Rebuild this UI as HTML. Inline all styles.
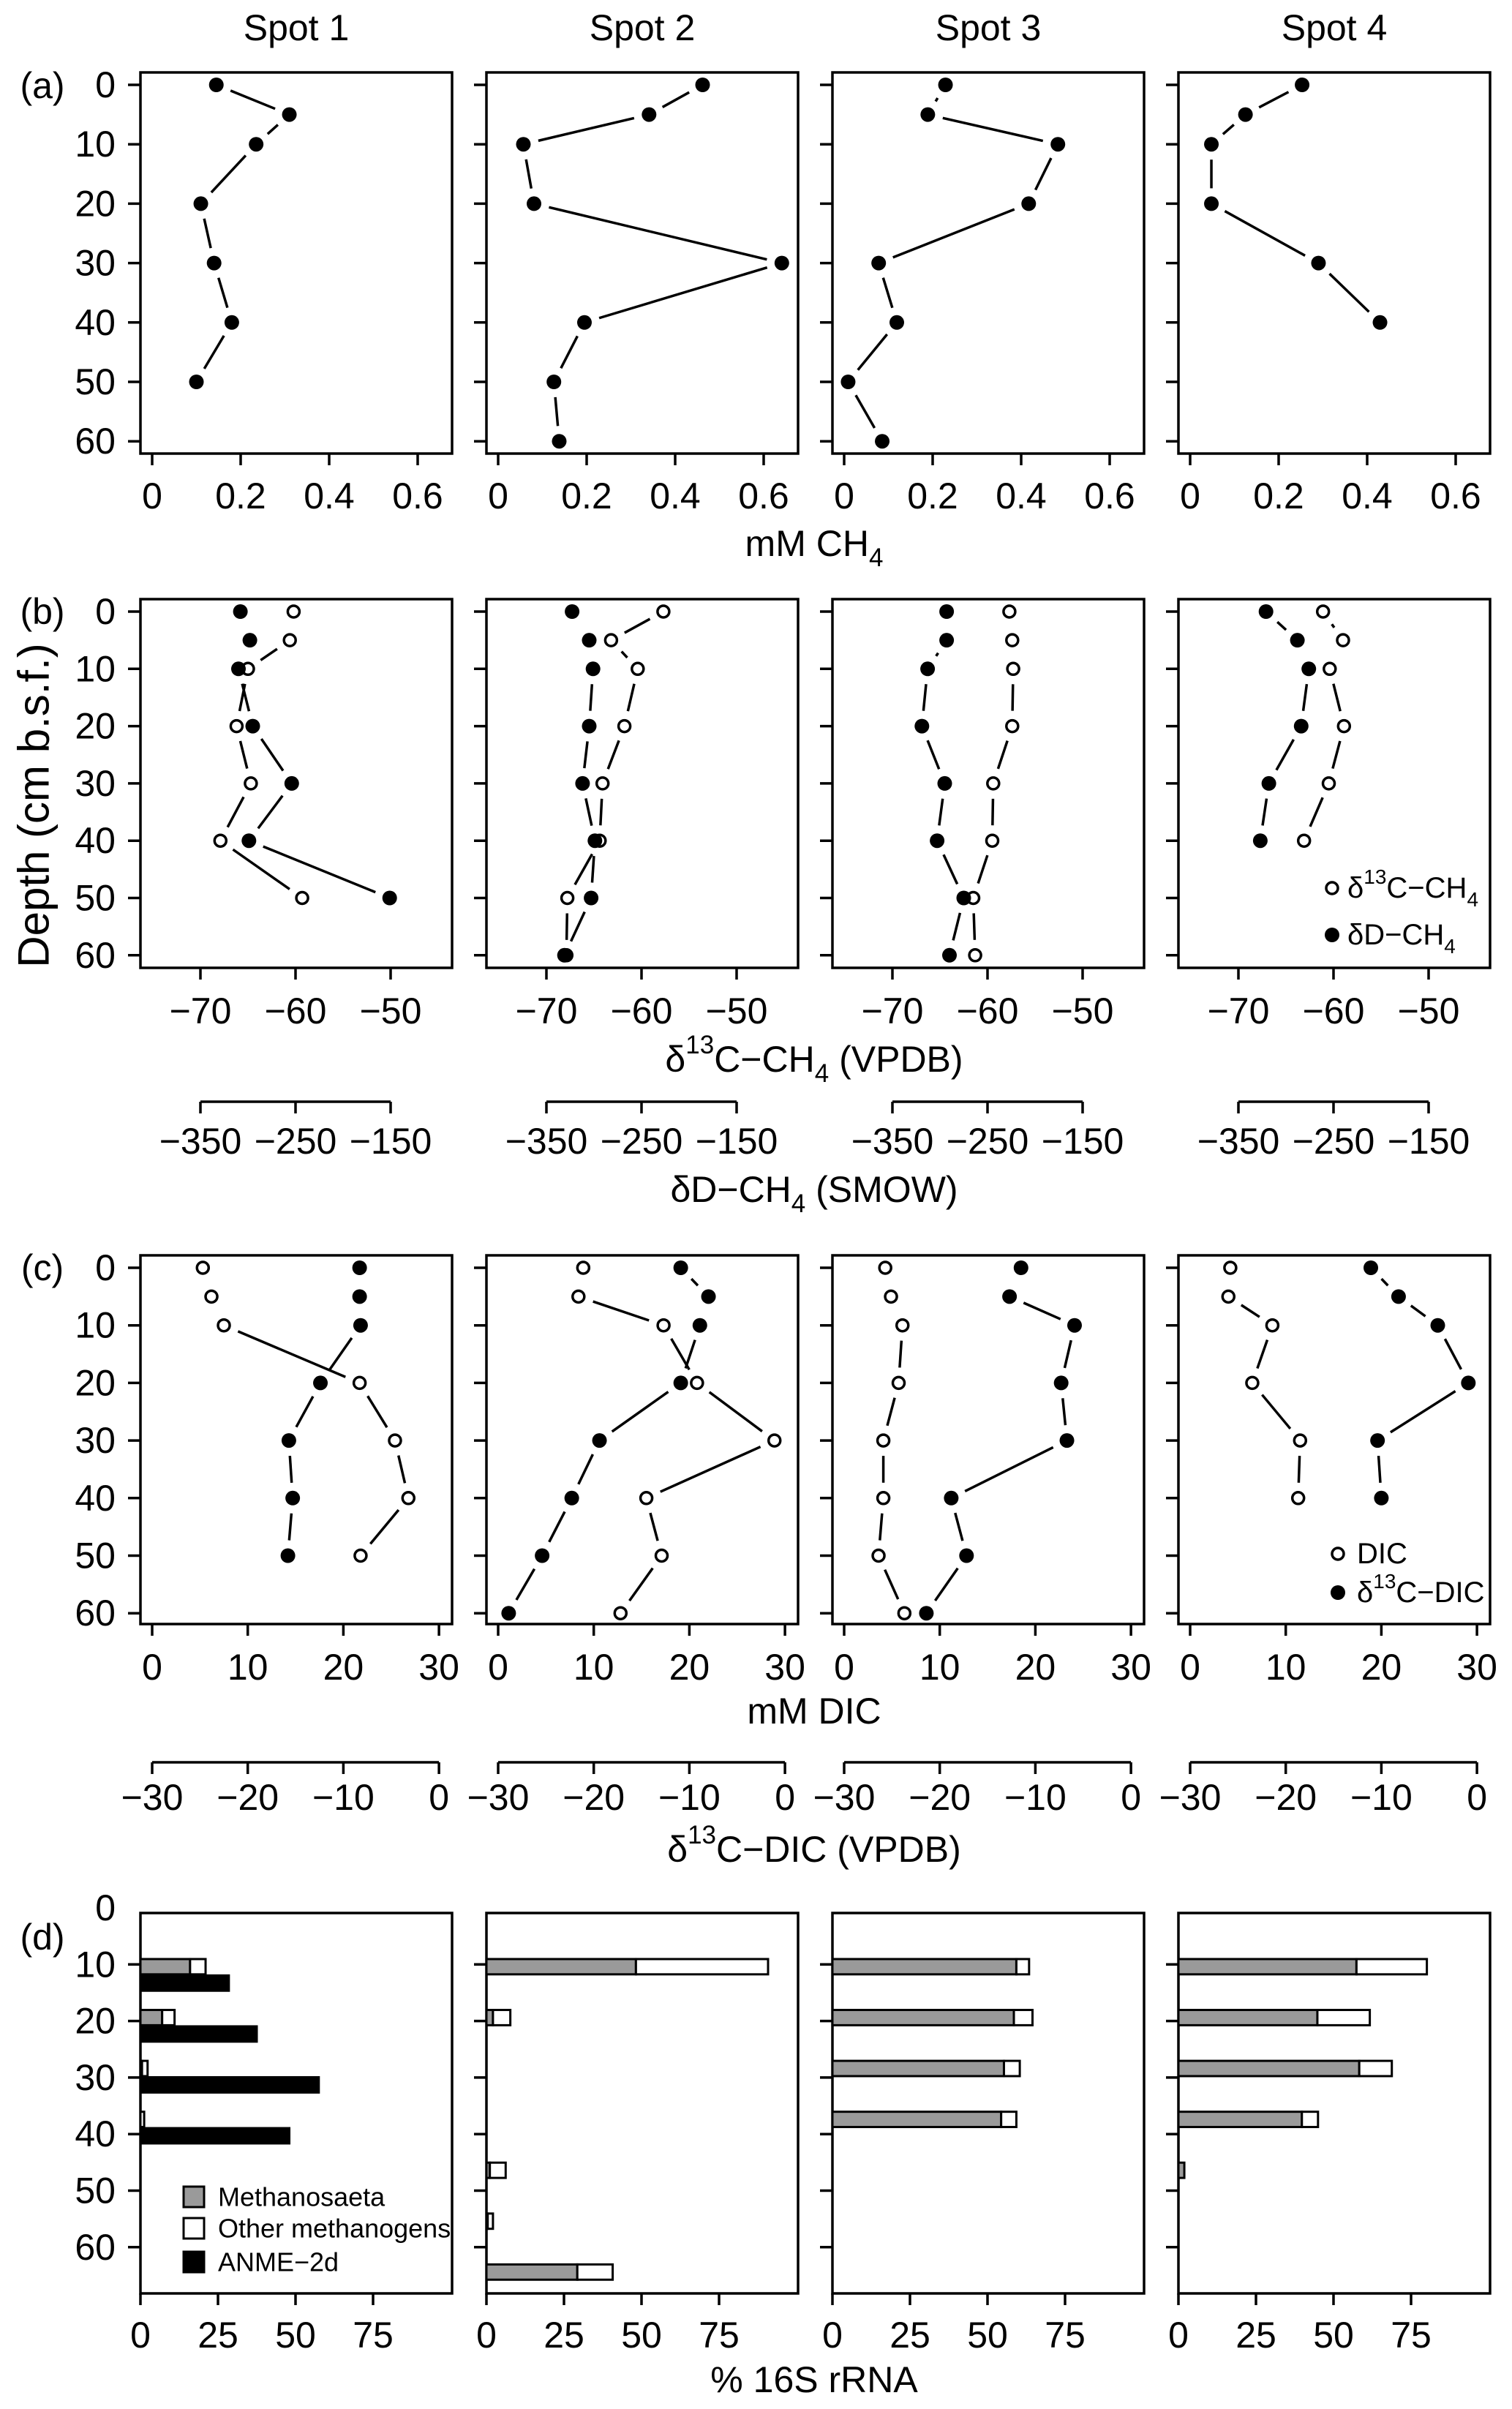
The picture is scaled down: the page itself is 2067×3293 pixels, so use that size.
<!DOCTYPE html>
<html><head><meta charset="utf-8"><title>Methane profiles by spot</title>
<style>
html,body{margin:0;padding:0;background:#fff;}
svg{display:block;font-family:"Liberation Sans",Arial,sans-serif;}
</style></head>
<body>
<svg id="fig" width="2067" height="3293" viewBox="0 0 2067 3293" xmlns="http://www.w3.org/2000/svg"></svg>
<script>
// ---- data ----
const spotNames = ["Spot 1","Spot 2","Spot 3","Spot 4"];
const depthsS1 = [0,5,10,20,30,40,50];
const depthsS2 = [0,5,10,20,30,40,50,60];
const depthsS3 = [0,5,10,20,30,40,50,60];
const depthsS4 = [0,5,10,20,30,40];
const ch4S1 = [0.145,0.31,0.235,0.11,0.14,0.18,0.10];
const ch4S2 = [0.462,0.341,0.057,0.081,0.641,0.195,0.126,0.138];
const ch4S3 = [0.229,0.189,0.483,0.417,0.078,0.119,0.009,0.086];
const ch4S4 = [0.253,0.125,0.048,0.048,0.29,0.429];
const d13ch4S1 = [-60.2,-60.6,-65,-66.2,-64.7,-67.9,-59.3];
const d13ch4S2 = [-57.7,-63.2,-60.4,-61.8,-64.1,-64.4,-67.8,-67.9];
const d13ch4S3 = [-57.7,-57.4,-57.3,-57.4,-59.4,-59.5,-61.5,-61.3];
const d13ch4S4 = [-61.1,-59.0,-60.4,-58.9,-60.5,-63.1];
const dDch4S1 = [-308,-298,-310,-295,-254,-299,-151];
const dDch4S2 = [-323,-305,-301,-305,-312,-299,-303,-331];
const dDch4S3 = [-293,-293,-313,-319,-295,-303,-275,-290];
const dDch4S4 = [-321,-288,-276,-284,-318,-327];
const dicS1 = [5.3,6.2,7.5,21.7,25.4,26.8,21.8];
const dicS2 = [8.9,8.4,17.3,20.8,28.9,15.5,17.1,12.8];
const dicS3 = [4.3,4.9,6.1,5.7,4.1,4.1,3.6,6.3];
const dicS4 = [4.2,4.0,8.6,6.5,11.5,11.3];
const d13dicS1 = [-8.3,-8.3,-8.2,-12.4,-15.7,-15.3,-15.8];
const d13dicS2 = [-10.9,-8.0,-8.9,-10.9,-19.4,-22.3,-25.4,-28.9];
const d13dicS3 = [-11.5,-12.7,-5.9,-7.3,-6.7,-18.8,-17.2,-21.4];
const d13dicS4 = [-11.1,-8.2,-4.1,-0.9,-10.4,-10.0];
const barGroups = [0,1,2,3,4,5,6];
const methanosaetaS1 = [16,7,0.5,0,0,0,0];
const methanosaetaS2 = [48.2,2.1,0,0,1.1,0.4,29.3];
const methanosaetaS3 = [59.3,58.5,55.3,54.4,0,0,0];
const methanosaetaS4 = [57.4,44.8,58.3,39.8,1.9,0,0];
const otherMethS1 = [5,4,1.8,1.2,0,0,0];
const otherMethS2 = [42.6,5.6,0,0,5.1,1.7,11.4];
const otherMethS3 = [4.1,6,5.1,4.9,0,0,0];
const otherMethS4 = [22.7,16.9,10.5,5.2,0,0,0];
const anmeS1 = [28.5,37.5,57.5,48,0,0,0];
const depthTicks = [0,10,20,30,40,50,60];
const ch4Ticks = [0,0.2,0.4,0.6];
const d13Ticks = [-70,-60,-50];
const dDTicks = [-350,-250,-150];
const dicTicks = [0,10,20,30];
const d13dicTicks = [-30,-20,-10,0];
const pctTicks = [0,25,50,75];

const depths = [depthsS1,depthsS2,depthsS3,depthsS4];
const ch4 = [ch4S1,ch4S2,ch4S3,ch4S4];
const d13ch4 = [d13ch4S1,d13ch4S2,d13ch4S3,d13ch4S4];
const dDch4 = [dDch4S1,dDch4S2,dDch4S3,dDch4S4];
const dic = [dicS1,dicS2,dicS3,dicS4];
const d13dic = [d13dicS1,d13dicS2,d13dicS3,d13dicS4];
const meth = [methanosaetaS1,methanosaetaS2,methanosaetaS3,methanosaetaS4];
const other = [otherMethS1,otherMethS2,otherMethS3,otherMethS4];

// ---- layout ----
const NS = "http://www.w3.org/2000/svg";
const svg = document.getElementById("fig");
const LEFTS = [192,665,1138,1611];
const W = 426;
const ROWS = {
  a:{top:99,bot:620,y0:116,per:8.12,lab:678},
  b:{top:819,bot:1323,y0:836,per:7.83,lab:1382},
  c:{top:1716,bot:2220,y0:1733,per:7.87,lab:2279},
  d:{top:2615,bot:3135,y0:2608,per:7.73,lab:3192}
};
function yScale(r,d){return ROWS[r].y0 + d*ROWS[r].per;}
const xA = (L,v)=>L+16+v*605;
const xB = (L,v)=>L+82+(v+70)*13;
const xBD = (L,v)=>L+82+(v+350)*1.3;
const xC = (L,v)=>L+16+v*13.07;
const xCD = (L,v)=>L+16+(v+30)*13.07;
const xD = (L,v)=>L+v*4.24;

function mk(tag,attrs,parent){
  const e=document.createElementNS(NS,tag);
  for(const k in attrs) e.setAttribute(k,attrs[k]);
  (parent||svg).appendChild(e);
  return e;
}
function txt(x,y,s,size,anchor,parent){
  const t=mk("text",{x:x,y:y,"font-size":size,"text-anchor":anchor||"middle","dominant-baseline":"central",fill:"#000"},parent);
  t.textContent=s;
  return t;
}
function richTxt(x,y,parts,size,anchor){
  const t=mk("text",{x:x,y:y,"font-size":size,"text-anchor":anchor||"middle","dominant-baseline":"central",fill:"#000"});
  parts.forEach(p=>{
    const ts=document.createElementNS(NS,"tspan");
    ts.textContent=p[0];
    if(p[1]==="sup"){ts.setAttribute("baseline-shift","super");ts.setAttribute("font-size",Math.round(size*0.7));}
    if(p[1]==="sub"){ts.setAttribute("baseline-shift","sub");ts.setAttribute("font-size",Math.round(size*0.7));}
    t.appendChild(ts);
  });
  return t;
}
function gapLine(x1,y1,x2,y2,g,parent){
  const dx=x2-x1, dy=y2-y1, len=Math.hypot(dx,dy);
  if(len<=2*g+4) return null;
  const ux=dx/len, uy=dy/len;
  return mk("line",{x1:x1+ux*g,y1:y1+uy*g,x2:x2-ux*g,y2:y2-uy*g,stroke:"#000","stroke-width":3.5},parent);
}

// ---- titles ----
spotNames.forEach((s,i)=>{
  const t=txt(LEFTS[i]+W/2,38,s,50);
  
  
});
const panelLabels=[["(a)",117],["(b)",836],["(c)",1733],["(d)",2648]];
panelLabels.forEach(p=>{
  const t=txt(58,p[1],p[0],50);
  
  
});
const depthTitle=txt(0,0,"Depth (cm b.s.f.)",60);
depthTitle.setAttribute("transform","translate(46,1101) rotate(-90)");



// ---- generic panel frame ----
function frame(r,i,xTicks,xFn,name){
  const L=LEFTS[i], R=ROWS[r];
  const g=mk("g",{});
  
  
  const box=mk("rect",{x:L,y:R.top,width:W,height:R.bot-R.top,fill:"none",stroke:"#000","stroke-width":3.5},g);
  
  
  depthTicks.forEach(d=>{
    const y=yScale(r,d);
    if(!(r==="d"&&d===0)){
      const tk=mk("line",{x1:L-17,y1:y,x2:L,y2:y,stroke:"#000","stroke-width":3.5},g);
      
      
    }
    if(i===0){
      const tl=txt(L-34,y,String(d),50,"end",g);
      
      
    }
  });
  xTicks.forEach(v=>{
    const x=xFn(L,v);
    const tk=mk("line",{x1:x,y1:R.bot,x2:x,y2:R.bot+16,stroke:"#000","stroke-width":3.5},g);
    
    
    const tl=txt(x,R.lab,String(v).replace("-","\u2212"),50,"middle",g);
    
    
  });
  return g;
}
function ruler(i,y,labY,ticks,xFn,name){
  const L=LEFTS[i];
  const g=mk("g",{});
  
  
  const x1=xFn(L,ticks[0]), x2=xFn(L,ticks[ticks.length-1]);
  const ln=mk("line",{x1:x1,y1:y,x2:x2,y2:y,stroke:"#000","stroke-width":3.5},g);
  
  
  ticks.forEach(v=>{
    const x=xFn(L,v);
    const tk=mk("line",{x1:x,y1:y,x2:x,y2:y+16,stroke:"#000","stroke-width":3.5},g);
    
    
    const tl=txt(x,labY,String(v).replace("-","\u2212"),50,"middle",g);
    
    
  });
}
function series(r,i,vals,ds,xFn,L,open,name){
  const g=mk("g",{});
  
  
  const pts=vals.map((v,k)=>[xFn(L,v),yScale(r,ds[k])]);
  for(let k=0;k<pts.length-1;k++){
    const l=gapLine(pts[k][0],pts[k][1],pts[k+1][0],pts[k+1][1],21,g);
    if(l){
      
      
    }
  }
  pts.forEach(p=>{
    const c=open?mk("circle",{cx:p[0],cy:p[1],r:8,fill:"#fff",stroke:"#000","stroke-width":3.5},g)
                :mk("circle",{cx:p[0],cy:p[1],r:10,fill:"#000"},g);
    
    
  });
}

for(let i=0;i<4;i++){
  const L=LEFTS[i];
  frame("a",i,ch4Ticks,xA,"ch4-panel");
  series("a",i,ch4[i],depths[i],xA,L,false,"ch4-series");
  frame("b",i,d13Ticks,xB,"ch4-isotope-panel");
  ruler(i,1506,1560,dDTicks,xBD,"dD-axis");
  series("b",i,d13ch4[i],depths[i],xB,L,true,"d13c-ch4-series");
  series("b",i,dDch4[i],depths[i],xBD,L,false,"dD-ch4-series");
  frame("c",i,dicTicks,xC,"dic-panel");
  ruler(i,2409,2457,d13dicTicks,xCD,"d13c-dic-axis");
  series("c",i,dic[i],depths[i],xC,L,true,"dic-series");
  series("c",i,d13dic[i],depths[i],xCD,L,false,"d13c-dic-series");
  frame("d",i,pctTicks,xD,"rrna-panel");
  barGroups.forEach(gi=>{
    const mc=10.4+9*gi;
    const m=meth[i][gi], o=other[i][gi];
    const h=2.7*ROWS.d.per;
    const yTop=yScale("d",mc)-h/2;
    if(m>0){
      const b=mk("rect",{x:L,y:yTop,width:xD(L,m)-L,height:h,fill:"#9a9a9a",stroke:"#000","stroke-width":3});
      
      
    }
    if(o>0){
      const b=mk("rect",{x:xD(L,m),y:yTop,width:xD(L,m+o)-xD(L,m),height:h,fill:"#fff",stroke:"#000","stroke-width":3});
      
      
    }
    if(i===0 && anmeS1[gi]>0){
      const b=mk("rect",{x:L,y:yScale("d",mc+2.9)-h/2,width:xD(L,anmeS1[gi])-L,height:h,fill:"#000",stroke:"#000","stroke-width":3});
      
      
    }
  });
}

// ---- axis titles ----
const t1=richTxt(1113,743,[["mM CH"],["4","sub"]],50);


const t2=richTxt(1113,1448,[["\u03B4"],["13","sup"],["C\u2212CH"],["4","sub"],[" (VPDB)"]],50);


const t3=richTxt(1113,1626,[["\u03B4D\u2212CH"],["4","sub"],[" (SMOW)"]],50);


const t4=richTxt(1113,2339,[["mM DIC"]],50);


const t5=richTxt(1113,2528,[["\u03B4"],["13","sup"],["C\u2212DIC (VPDB)"]],50);


const t6=richTxt(1113,3253,[["% 16S rRNA"]],50);



// ---- legends ----
const lb1=mk("circle",{cx:1821,cy:1214,r:8,fill:"#fff",stroke:"#000","stroke-width":3.5});


const lb1t=richTxt(1842,1214,[["\u03B4"],["13","sup"],["C\u2212CH"],["4","sub"]],40,"start");


const lb2=mk("circle",{cx:1821,cy:1278,r:10,fill:"#000"});


const lb2t=richTxt(1842,1278,[["\u03B4D\u2212CH"],["4","sub"]],40,"start");



const lc1=mk("circle",{cx:1829,cy:2124,r:8,fill:"#fff",stroke:"#000","stroke-width":3.5});


const lc1t=richTxt(1855,2124,[["DIC"]],40,"start");


const lc2=mk("circle",{cx:1829,cy:2177,r:10,fill:"#000"});


const lc2t=richTxt(1855,2177,[["\u03B4"],["13","sup"],["C\u2212DIC"]],40,"start");



const legD=[["Methanosaeta","#9a9a9a",3003],["Other methanogens","#fff",3046],["ANME\u22122d","#000",3092]];
legD.forEach(l=>{
  const s=mk("rect",{x:251,y:l[2]-14,width:28,height:28,fill:l[1],stroke:"#000","stroke-width":3});
  
  
  const t=txt(298,l[2],l[0],36,"start");
  
  
});
</script>
</body></html>
